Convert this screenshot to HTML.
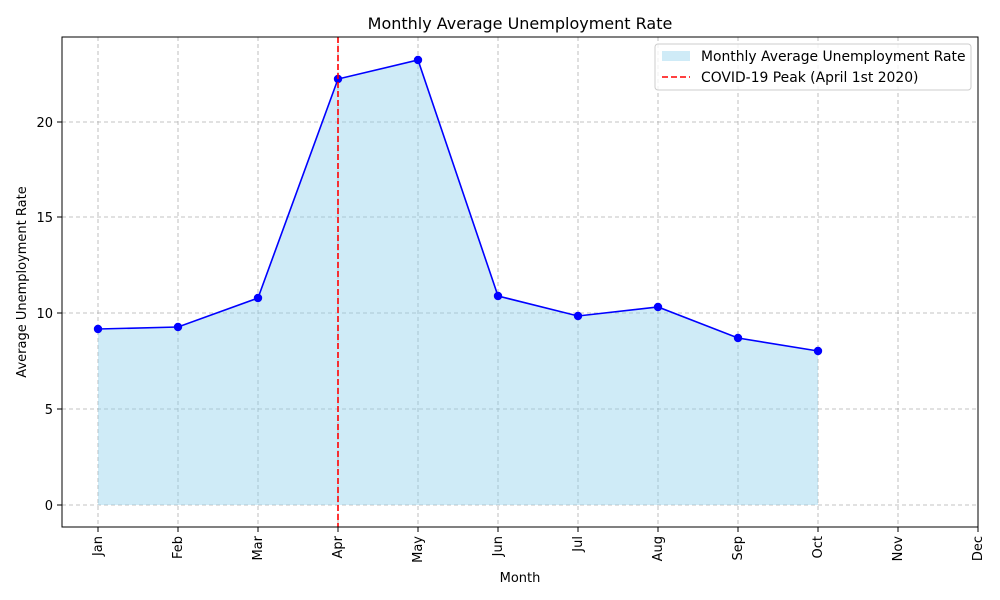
<!DOCTYPE html>
<html><head><meta charset="utf-8"><style>body{margin:0;background:#fff}svg{display:block}text{font-family:"DejaVu Sans","Liberation Sans",sans-serif;fill:#000}</style></head><body>
<svg width="1000" height="600" viewBox="0 0 1000 600" xmlns="http://www.w3.org/2000/svg">
<rect width="1000" height="600" fill="#fff"/>
<g stroke="#b0b0b0" stroke-width="0.8" stroke-dasharray="4,3">
<line x1="98" y1="37" x2="98" y2="527"/><line x1="178" y1="37" x2="178" y2="527"/><line x1="258" y1="37" x2="258" y2="527"/><line x1="338" y1="37" x2="338" y2="527"/><line x1="418" y1="37" x2="418" y2="527"/><line x1="498" y1="37" x2="498" y2="527"/><line x1="578" y1="37" x2="578" y2="527"/><line x1="658" y1="37" x2="658" y2="527"/><line x1="738" y1="37" x2="738" y2="527"/><line x1="818" y1="37" x2="818" y2="527"/><line x1="898" y1="37" x2="898" y2="527"/>
<line x1="62" y1="505" x2="978" y2="505"/><line x1="62" y1="409" x2="978" y2="409"/><line x1="62" y1="313" x2="978" y2="313"/><line x1="62" y1="217" x2="978" y2="217"/><line x1="62" y1="122" x2="978" y2="122"/>
</g>
<polygon points="98,505 98,329 178,327 258,298 338,79 418,60 498,296 578,316 658,307 738,338 818,351 818,505" fill="#87ceeb" fill-opacity="0.4"/>
<polyline points="98,329 178,327 258,298 338,79 418,60 498,296 578,316 658,307 738,338 818,351" fill="none" stroke="#0000ff" stroke-width="1.6"/>
<g fill="#0000ff"><circle cx="98" cy="329" r="4.2"/><circle cx="178" cy="327" r="4.2"/><circle cx="258" cy="298" r="4.2"/><circle cx="338" cy="79" r="4.2"/><circle cx="418" cy="60" r="4.2"/><circle cx="498" cy="296" r="4.2"/><circle cx="578" cy="316" r="4.2"/><circle cx="658" cy="307" r="4.2"/><circle cx="738" cy="338" r="4.2"/><circle cx="818" cy="351" r="4.2"/></g>
<line x1="338" y1="37" x2="338" y2="527" stroke="#ff0000" stroke-width="1.6" stroke-dasharray="6,3"/>
<rect x="62" y="37" width="916" height="490" fill="none" stroke="#000" stroke-width="1"/>
<g stroke="#000"><line x1="57" y1="505" x2="62" y2="505"/><line x1="57" y1="409" x2="62" y2="409"/><line x1="57" y1="313" x2="62" y2="313"/><line x1="57" y1="217" x2="62" y2="217"/><line x1="57" y1="122" x2="62" y2="122"/>
<line x1="98" y1="527" x2="98" y2="532"/><line x1="178" y1="527" x2="178" y2="532"/><line x1="258" y1="527" x2="258" y2="532"/><line x1="338" y1="527" x2="338" y2="532"/><line x1="418" y1="527" x2="418" y2="532"/><line x1="498" y1="527" x2="498" y2="532"/><line x1="578" y1="527" x2="578" y2="532"/><line x1="658" y1="527" x2="658" y2="532"/><line x1="738" y1="527" x2="738" y2="532"/><line x1="818" y1="527" x2="818" y2="532"/><line x1="898" y1="527" x2="898" y2="532"/><line x1="978" y1="527" x2="978" y2="532"/></g>
<g font-size="13" text-anchor="end"><text x="53" y="510">0</text><text x="53" y="414">5</text><text x="53" y="318">10</text><text x="53" y="222">15</text><text x="53" y="127">20</text></g>
<g font-size="13" text-anchor="end">
<text transform="translate(102,536) rotate(-90)">Jan</text><text transform="translate(182,536) rotate(-90)">Feb</text><text transform="translate(262,536) rotate(-90)">Mar</text><text transform="translate(342,536) rotate(-90)">Apr</text><text transform="translate(422,536) rotate(-90)">May</text><text transform="translate(502,536) rotate(-90)">Jun</text><text transform="translate(582,536) rotate(-90)">Jul</text><text transform="translate(662,536) rotate(-90)">Aug</text><text transform="translate(742,536) rotate(-90)">Sep</text><text transform="translate(822,536) rotate(-90)">Oct</text><text transform="translate(902,536) rotate(-90)">Nov</text><text transform="translate(982,536) rotate(-90)">Dec</text></g>
<text x="520" y="582" font-size="13" text-anchor="middle">Month</text>
<text transform="translate(26,282) rotate(-90)" font-size="13" text-anchor="middle">Average Unemployment Rate</text>
<text x="520" y="29" font-size="16" text-anchor="middle">Monthly Average Unemployment Rate</text>
<rect x="655" y="44" width="316" height="46" rx="3" fill="#fff" fill-opacity="0.8" stroke="#ccc"/>
<rect x="662" y="51" width="28" height="10" fill="#87ceeb" fill-opacity="0.4"/>
<text x="701" y="61" font-size="13.9">Monthly Average Unemployment Rate</text>
<line x1="662" y1="77" x2="690" y2="77" stroke="#ff0000" stroke-width="1.6" stroke-dasharray="6,3"/>
<text x="701" y="82" font-size="13.9">COVID-19 Peak (April 1st 2020)</text>
</svg></body></html>
